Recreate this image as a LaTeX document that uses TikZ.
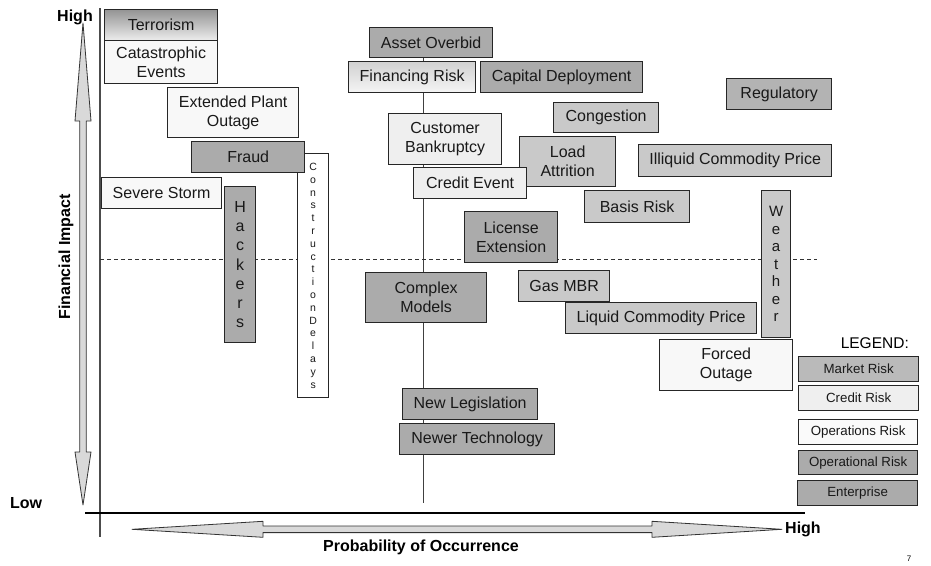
\documentclass[tikz,border=0pt]{standalone}
\usepackage{fontspec}
\setmainfont{Liberation Sans}
\begin{document}
\begin{tikzpicture}[x=1pt,y=-1pt,
  box/.style={draw=black!85, line width=1.3pt, inner sep=0pt, align=center, text=black!90,
              font=\fontsize{16}{19}\selectfont},
  mkt/.style={box, fill=mktc},
  opl/.style={box, fill=oplc},
  ent/.style={box, fill=entc},
  cred/.style={box, fill=credc},
  opsr/.style={box, fill=opsc},
  legbox/.style={font=\fontsize{13.3}{15}\selectfont},
  axislabel/.style={font=\bfseries\fontsize{16}{18}\selectfont, inner sep=0pt},
  bigarrow/.style={fill=arrc, draw=black!80, line width=0.8pt, line join=round}]
\definecolor{mktc}{HTML}{C9C9C9}
\definecolor{oplc}{HTML}{ABABAB}
\definecolor{entc}{HTML}{B3B3B3}
\definecolor{credc}{HTML}{EFEFEF}
\definecolor{opsc}{HTML}{F8F8F8}
\definecolor{arrc}{HTML}{D9D9D9}
\newcommand\riskbox[7]{\node[#2, anchor=north west, minimum width={(#5-#3)*1pt},
  minimum height={(#6-#4)*1pt}] (#1) at (#3,#4) {#7};}

\useasboundingbox (0,0) rectangle (931,565);

% axes and guide lines
\draw[black!70, line width=1.1pt] (100,8) -- (100,537);
\draw[black, line width=1.1pt] (85,513) -- (805,513);
\draw[black!75, line width=0.9pt] (423,45) -- (423,503);
\draw[black!80, line width=0.8pt, dash pattern=on 4pt off 3pt] (100,259) -- (817,259);

% double arrows of the two axes
\draw[bigarrow] (83,23) -- (91,121) -- (86.3,121) -- (86.3,452) -- (91,452) -- (83,505)
  -- (75,452) -- (79.7,452) -- (79.7,121) -- (75,121) -- cycle;
\draw[bigarrow] (132,529.3) -- (263,521.3) -- (263,526) -- (652,526) -- (652,521.3) -- (782,529.3)
  -- (652,537.3) -- (652,532.6) -- (263,532.6) -- (263,537.3) -- cycle;

% axis labels
\node[axislabel] (yhigh) at (75,17) {High};
\node[axislabel] (ylow) at (26,503) {Low};
\node[axislabel, anchor=west] (xhigh) at (785,529.5) {High};
\node[axislabel, rotate=90] (ytitle) at (66,257) {Financial Impact};
\node[axislabel] (xtitle) at (421,547) {Probability of Occurrence};
\node[font=\fontsize{8}{9}\selectfont, inner sep=0pt] (pageno) at (909,559) {7};

% risks, left column
\node[box, anchor=north west, minimum width=113pt, minimum height=31pt,
      top color=black!42, bottom color=black!7] (terror) at (104,9) {Terrorism};
\riskbox{catastrophic}{opsr}{104}{40}{217}{83}{Catastrophic\\Events}
\riskbox{plant}{opsr}{167}{87}{298}{137}{Extended Plant\\Outage}
\node[box, fill=white, anchor=north west, minimum width=31pt, minimum height=244pt,
      font=\fontsize{10.5}{12.8}\selectfont] (construction) at (297,153)
      {C\\o\\n\\s\\t\\r\\u\\c\\t\\i\\o\\n\\D\\e\\l\\a\\y\\s};
\riskbox{fraud}{opl}{191}{141}{304}{172}{Fraud}
\riskbox{storm}{opsr}{101}{177}{221}{208}{Severe Storm}
\node[opl, anchor=north west, minimum width=31pt, minimum height=156pt,
      font=\fontsize{16}{19.2}\selectfont] (hackers) at (224,186) {H\\a\\c\\k\\e\\r\\s};

% risks, middle
\riskbox{overbid}{opl}{369}{27}{492}{57}{Asset Overbid}
\node[box, anchor=north west, minimum width=127pt, minimum height=31pt,
      top color=black!18, bottom color=black!4] (financing) at (348,61) {Financing Risk};
\riskbox{capital}{opl}{480}{61}{642}{92}{Capital Deployment}
\riskbox{congestion}{mkt}{553}{102}{658}{132}{Congestion}
\riskbox{bankruptcy}{cred}{388}{113}{501}{164}{Customer\\Bankruptcy}
\riskbox{attrition}{mkt}{519}{136}{615}{186}{Load\\Attrition}
\riskbox{credit}{cred}{413}{167}{526}{198}{Credit Event}
\riskbox{license}{opl}{464}{211}{557}{262}{License\\Extension}
\riskbox{models}{opl}{365}{272}{486}{322}{Complex\\Models}
\riskbox{gasmbr}{mkt}{518}{270}{609}{301}{Gas MBR}
\riskbox{liquid}{mkt}{565}{302}{756}{333}{Liquid Commodity Price}
\riskbox{legislation}{opl}{402}{388}{537}{419}{New Legislation}
\riskbox{technology}{opl}{399}{423}{554}{454}{Newer Technology}

% risks, right
\riskbox{regulatory}{ent}{726}{78}{831}{109}{Regulatory}
\riskbox{illiquid}{mkt}{638}{144}{831}{176}{Illiquid Commodity Price}
\riskbox{basis}{mkt}{584}{190}{689}{222}{Basis Risk}
\node[mkt, anchor=north west, minimum width=29pt, minimum height=147pt,
      font=\fontsize{15}{17.5}\selectfont] (weather) at (761,190) {W\\e\\a\\t\\h\\e\\r};
\riskbox{forced}{opsr}{659}{339}{792}{390}{Forced\\Outage}

% legend
\node[font=\fontsize{15.5}{17}\selectfont, inner sep=0pt, anchor=east] (legendtitle) at (909,343) {LEGEND:};
\riskbox{lgmarket}{mkt,legbox,fill=black!27}{798}{356}{918}{381}{Market Risk}
\riskbox{lgcredit}{cred,legbox}{798}{385}{918}{410}{Credit Risk}
\riskbox{lgops}{opsr,legbox,fill=white!98!black}{798}{419}{917}{444}{Operations Risk}
\riskbox{lgopl}{opl,legbox}{798}{450}{917}{474}{Operational Risk}
\riskbox{lgent}{opl,legbox}{797}{480}{917}{505}{Enterprise}
\end{tikzpicture}
\end{document}
